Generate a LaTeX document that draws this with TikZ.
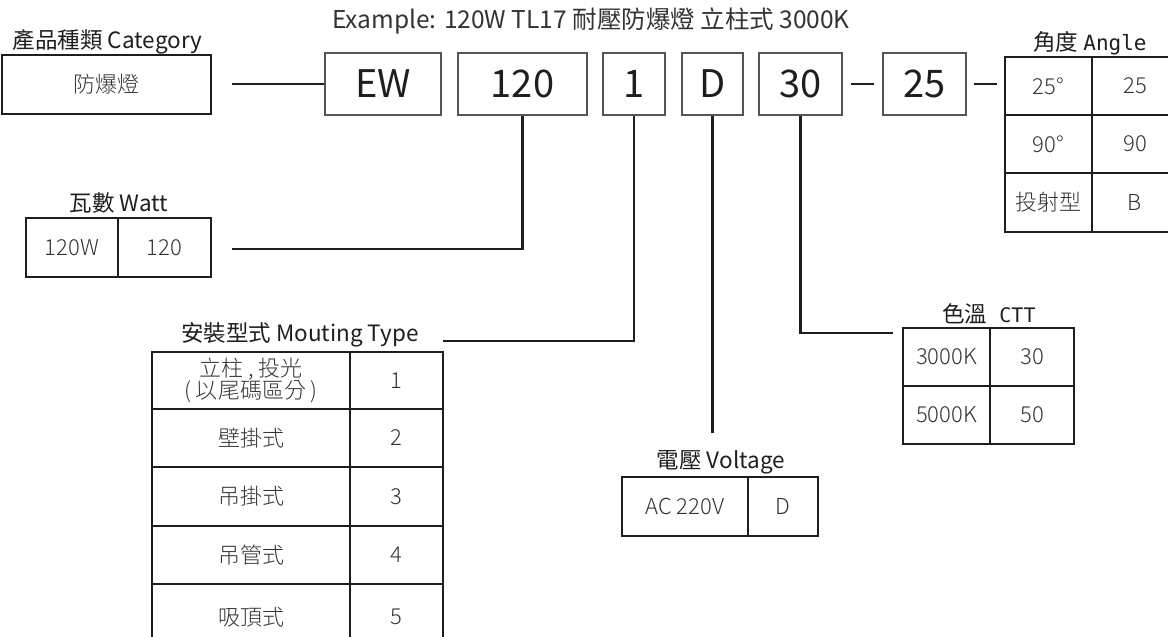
\documentclass[tikz,border=0pt]{standalone}
\usepackage{fontspec}
\setmainfont{Noto Sans CJK TC}
\newfontfamily\lightfont{Noto Sans CJK TC Light}
\newfontfamily\angmono{DejaVu Sans Mono}
\definecolor{txt}{HTML}{333333}
\definecolor{boxc}{HTML}{555555}
\definecolor{ink}{HTML}{1E1E1E}
\tikzset{
  cell/.style={draw=ink, line width=2.5pt, inner sep=0pt, align=center,
    font=\lightfont\fontsize{22}{25}\selectfont, text=txt},
  codebox/.style={draw=boxc, line width=1.5pt, inner sep=0pt, minimum height=62pt,
    font=\fontsize{38}{38}\selectfont, text=ink},
  catbox/.style={draw=ink, line width=2.6pt, inner sep=0pt,
    font=\lightfont\fontsize{22}{25}\selectfont, text=txt},
  title/.style={anchor=base, inner sep=0pt, font=\fontsize{22.5}{22.5}\selectfont, text=ink},
  conn/.style={draw=ink, line width=2.6pt},
  thinline/.style={draw=ink, line width=1.5pt}
}
\begin{document}
\begin{tikzpicture}[x=1pt,y=-1pt]
\useasboundingbox (0,0) rectangle (1168,637);

% example line
\node[title, font=\fontsize{24.5}{24.5}\selectfont, text=txt] (ex) at (591,28) {Example: 120W TL17 耐壓防爆燈 立柱式 3000K};

% category
\node[title] (tcat) at (107.5,48) {產品種類 Category};
\node[catbox, minimum width=209pt, minimum height=59pt] (cat) at (106.5,84.5) {防爆燈};

% code boxes
\node[codebox, minimum width=116pt] (bEW) at (383,84) {EW};
\node[codebox, minimum width=129pt] (b120) at (522.5,84) {120};
\node[codebox, minimum width=62pt] (b1) at (634,84) {1};
\node[codebox, minimum width=61pt] (bD) at (712.5,84) {D};
\node[codebox, minimum width=83pt] (b30) at (800.5,84) {30};
\node[codebox, minimum width=83pt] (b25) at (924.5,84) {25};

% angle table
\node[title] (tang) at (1090,50) {角度\hspace{5pt}{\angmono\fontsize{21}{21}\selectfont Angle}};
\node[cell, minimum width=87pt, minimum height=58pt] (a11) at (1048.5,86) {25°};
\node[cell, minimum width=86pt, minimum height=58pt] (a12) at (1135,86) {25};
\node[cell, minimum width=87pt, minimum height=58pt] (a21) at (1048.5,144) {90°};
\node[cell, minimum width=86pt, minimum height=58pt] (a22) at (1135,144) {90};
\node[cell, minimum width=87pt, minimum height=59pt] (a31) at (1048.5,202.5) {投射型};
\node[cell, minimum width=86pt, minimum height=59pt] (a32) at (1135,202.5) {B};

% watt table
\node[title] (twatt) at (119,211) {瓦數 Watt};
\node[cell, minimum width=92pt, minimum height=59pt] (w1) at (72,247.5) {120W};
\node[cell, minimum width=93pt, minimum height=59pt] (w2) at (164.5,247.5) {120};

% mounting table
\node[title] (tmount) at (300,341.5) {安裝型式 Mouting Type};
\node[cell, minimum width=198pt, minimum height=57pt] (m11) at (251,380.5) {立柱 , 投光\\[-3pt]( 以尾碼區分 )};
\node[cell, minimum width=93pt, minimum height=57pt] (m12) at (396.5,380.5) {1};
\node[cell, minimum width=198pt, minimum height=58pt] (m21) at (251,438) {壁掛式};
\node[cell, minimum width=93pt, minimum height=58pt] (m22) at (396.5,438) {2};
\node[cell, minimum width=198pt, minimum height=59pt] (m31) at (251,496.5) {吊掛式};
\node[cell, minimum width=93pt, minimum height=59pt] (m32) at (396.5,496.5) {3};
\node[cell, minimum width=198pt, minimum height=58pt] (m41) at (251,555) {吊管式};
\node[cell, minimum width=93pt, minimum height=58pt] (m42) at (396.5,555) {4};
\node[cell, minimum width=198pt, minimum height=66pt] (m51) at (251,617) {吸頂式};
\node[cell, minimum width=93pt, minimum height=66pt] (m52) at (396.5,617) {5};

% voltage table
\node[title] (tvolt) at (721,468) {電壓 Voltage};
\node[cell, minimum width=126pt, minimum height=59pt] (v1) at (685,506.5) {AC 220V};
\node[cell, minimum width=70pt, minimum height=59pt] (v2) at (783,506.5) {D};

% CTT table
\node[title] (tctt) at (989,322) {色溫\hspace{12pt}{\angmono\fontsize{20}{20}\selectfont CTT}};
\node[cell, minimum width=87pt, minimum height=58pt] (c11) at (946.5,357) {3000K};
\node[cell, minimum width=84pt, minimum height=58pt] (c12) at (1032,357) {30};
\node[cell, minimum width=87pt, minimum height=58pt] (c21) at (946.5,415) {5000K};
\node[cell, minimum width=84pt, minimum height=58pt] (c22) at (1032,415) {50};

% connectors
\coordinate (cL) at (232,84);
\draw[thinline] (cL) -- (bEW.west);
\coordinate (wL) at (232,249);
\draw[conn] (b120.south) |- (wL);
\coordinate (mL) at (443,341);
\draw[conn] (b1.south) |- (mL);
\coordinate (vE) at (712.5,433);
\draw[conn] (bD.south) -- (vE);
\coordinate (tR) at (893,333);
\draw[conn] (b30.south) |- (tR);
\draw[thinline, shorten <=8pt, shorten >=8pt] (b30.east) -- (b25.west);
\draw[thinline, shorten <=7pt, shorten >=7pt] (b25.east) -- (b25.east -| a11.west);
\end{tikzpicture}
\end{document}
